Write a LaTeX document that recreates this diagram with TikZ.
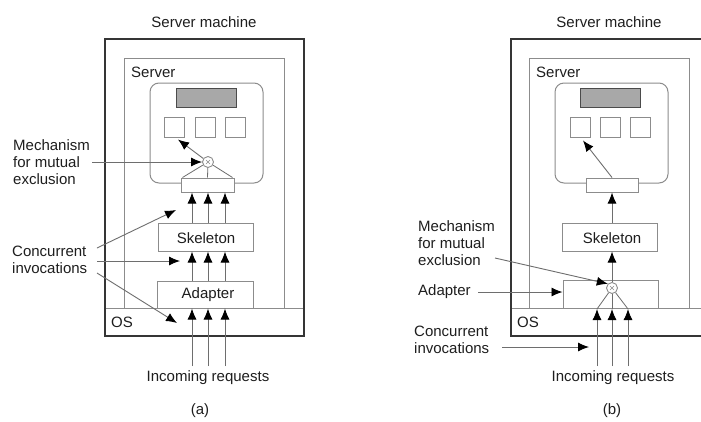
\documentclass[tikz,border=0pt]{standalone}
\usepackage{fontspec}
\setmainfont{Liberation Sans}
\usetikzlibrary{arrows.meta}
\definecolor{boxline}{HTML}{8C8C8C}
\definecolor{arrline}{HTML}{6E6E6E}
\definecolor{txt}{HTML}{1E1E1E}
\definecolor{stategray}{HTML}{A8A8A8}
\tikzset{
  every node/.style={font=\fontsize{15}{17}\selectfont, text=txt, inner sep=0pt},
  thinbox/.style={draw=boxline, line width=1pt, rectangle},
  outerbox/.style={draw=txt!90, line width=2.6pt},
  objbox/.style={draw=boxline, line width=1pt, rounded corners=9pt, rectangle},
  statebox/.style={draw=txt!80, line width=1pt, fill=stategray, rectangle},
  sq/.style={draw=boxline, line width=1pt, rectangle, minimum width=20pt, minimum height=20pt},
  arr/.style={draw=arrline, line width=0.9pt, -{Latex[length=11pt,width=9pt,color=black]}},
  ln/.style={draw=arrline, line width=0.8pt},
  mutex/.style={draw=boxline, line width=0.9pt, circle, minimum size=11pt},
  lbl/.style={align=left, anchor=west},
}
\begin{document}
\begin{tikzpicture}[x=1pt,y=-1pt]
\clip (0,0) rectangle (701,421);
\fill[white] (0,0) rectangle (701,421);

% ================= (a) =================
\node[thinbox, minimum width=160pt, minimum height=250pt] (serverA) at (204,183) {};
\node[objbox, minimum width=113pt, minimum height=100pt] (objA) at (206.5,133) {};
\node[statebox, minimum width=60pt, minimum height=19pt] (stateA) at (206,97.5) {};
\node[sq] (sqA1) at (174,127) {};
\node[sq] (sqA2) at (205,127) {};
\node[sq] (sqA3) at (235.5,127) {};
\node[thinbox, fill=white, minimum width=53pt, minimum height=14pt] (barA) at (207.5,185) {};
\node[thinbox, minimum width=95pt, minimum height=28pt] (skelA) at (205.5,237) {};
\node at (206,238) (skelAt) {Skeleton};
\node[thinbox, minimum width=96pt, minimum height=27pt] (adapA) at (205,294.5) {};
\node at (208,295) (adapAt) {Adapter};
\node[thinbox, fill=white, minimum width=199pt, minimum height=28pt] (osA) at (204.5,322) {};
\node[outerbox, minimum width=199pt, minimum height=297pt] (outerA) at (204.5,187.5) {};
\node at (204,22) (titleA) {Server machine};
\node[lbl] at (131,72) (serverAt) {Server};
\node[lbl] at (111,322) (osAt) {OS};
\node[mutex] (mutA) at (208,162) {};
\draw[line width=0.6pt, boxline] (mutA.center) ++(-2,-2) -- ++(4,4) (mutA.center) ++(-2,2) -- ++(4,-4);

\draw[ln] (mutA) -- ([xshift=2pt]barA.north west);
\draw[ln] (mutA) -- (barA.north);
\draw[ln] (mutA) -- ([xshift=-2pt]barA.north east);
\draw[arr] (mutA) -- ([xshift=4pt,yshift=-2pt]sqA1.south);

\foreach \i/\x in {1/192,2/208,3/225}{
  \coordinate (inA\i) at (\x,366);
  \draw[arr] (inA\i) -- (inA\i |- adapA.south);
  \draw[arr] (inA\i |- adapA.north) -- (inA\i |- skelA.south);
  \draw[arr] (inA\i |- skelA.north) -- (inA\i |- barA.south);
}
\node at (208,378) (incA) {Incoming requests};
\node at (200,411) (capA) {(a)};

\node[lbl] at (13,162) (mechA) {Mechanism\\for mutual\\exclusion};
\coordinate (mechAs) at (92,162);
\draw[arr] (mechAs) -- (mutA.west);

\node[lbl] at (12,259.5) (concA) {Concurrent\\invocations};
\coordinate (concA1) at (97,248);
\coordinate (concA2) at (97,261);
\coordinate (concA3) at (97,273);
\coordinate (concA1e) at (176,210);
\coordinate (concA2e) at (180,261);
\coordinate (concA3e) at (177,323);
\draw[arr] (concA1) -- (concA1e);
\draw[arr] (concA2) -- (concA2e);
\draw[arr] (concA3) -- (concA3e);

% ================= (b) =================
\node[thinbox, minimum width=160pt, minimum height=250pt] (serverB) at (609,183) {};
\node[objbox, minimum width=113pt, minimum height=100pt] (objB) at (611.5,133) {};
\node[statebox, minimum width=60pt, minimum height=19pt] (stateB) at (610,97.5) {};
\node[sq] (sqB1) at (580,127) {};
\node[sq] (sqB2) at (610,127) {};
\node[sq] (sqB3) at (640,127) {};
\node[thinbox, fill=white, minimum width=52pt, minimum height=14pt] (barB) at (612,185) {};
\node[thinbox, minimum width=95pt, minimum height=28pt] (skelB) at (609.5,237) {};
\node at (612,238) (skelBt) {Skeleton};
\node[thinbox, minimum width=95pt, minimum height=28pt] (adapB) at (610.5,294) {};
\node[thinbox, fill=white, minimum width=199pt, minimum height=28pt] (osB) at (610.5,322) {};
\node[outerbox, minimum width=199pt, minimum height=297pt] (outerB) at (610.5,187.5) {};
\node at (609,22) (titleB) {Server machine};
\node[lbl] at (536,72) (serverBt) {Server};
\node[lbl] at (517,322) (osBt) {OS};
\node[mutex] (mutB) at (612,288) {};
\draw[line width=0.6pt, boxline] (mutB.center) ++(-2,-2) -- ++(4,4) (mutB.center) ++(-2,2) -- ++(4,-4);

\foreach \i/\x in {1/597,2/612,3/628}{
  \coordinate (inB\i) at (\x,366);
  \draw[arr] (inB\i) -- (\x,309);
  \draw[ln] (mutB) -- (\x,309);
}
\draw[arr] (mutB) -- (skelB.south -| mutB);
\draw[arr] (skelB.north -| mutB) -- (barB.south);
\draw[arr] (barB.north) -- ([xshift=3pt,yshift=-3pt]sqB1.south);

\node at (613,378) (incB) {Incoming requests};
\node at (612,411) (capB) {(b)};

\node[lbl] at (418,243) (mechB) {Mechanism\\for mutual\\exclusion};
\coordinate (mechBs) at (495,258);
\draw[arr] (mechBs) -- (mutB.north west);

\node[lbl] at (418,292) (adapBt) {Adapter};
\coordinate (adapBs) at (478,292);
\draw[arr] (adapBs) -- (adapB.west |- adapBs);

\node[lbl] at (414,339.5) (concB) {Concurrent\\invocations};
\coordinate (concBs) at (502,347);
\coordinate (concBe) at (589,347);
\draw[arr] (concBs) -- (concBe);
\end{tikzpicture}
\end{document}
